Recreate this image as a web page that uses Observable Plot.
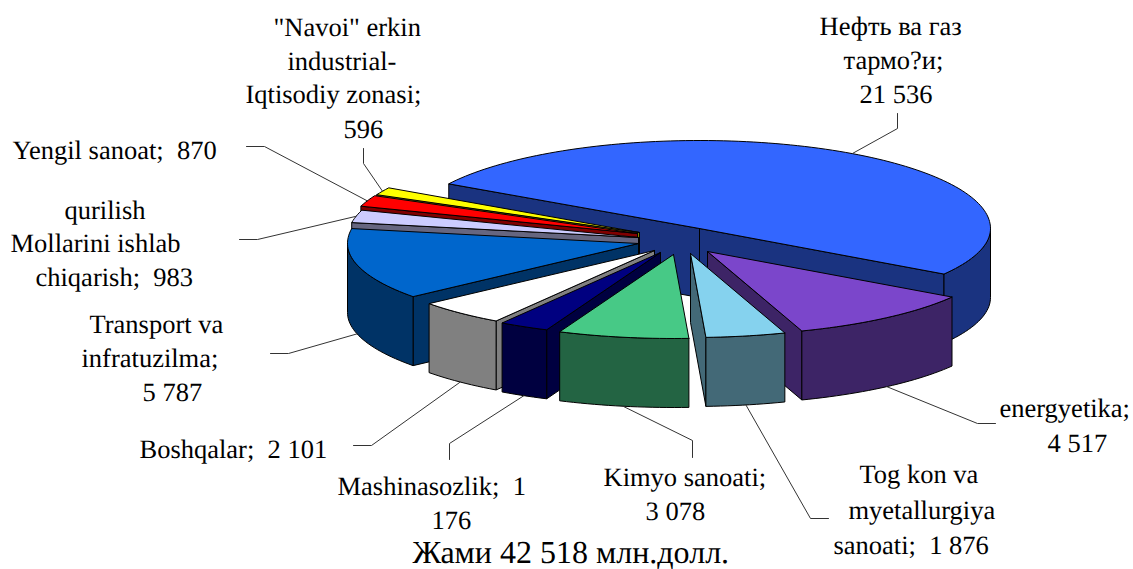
<!DOCTYPE html>
<html lang="uz"><head><meta charset="utf-8">
<script src="https://cdn.jsdelivr.net/npm/d3@7"></script>
<script src="https://cdn.jsdelivr.net/npm/@observablehq/plot@0.6"></script>
<style>
html,body{margin:0;padding:0;background:#fff;overflow:hidden;width:1133px;height:569px}
#chart svg{display:block;text-rendering:geometricPrecision}
</style></head>
<body><div id="chart"></div>
<script>
// ---- data, in pie order (clockwise from the back-left edge)
const sectors = ["Нефть ва газ тармо?и","energyetika","Tog kon va myetallurgiya sanoati","Kimyo sanoati","Mashinasozlik","Boshqalar","Transport va infratuzilma","qurilish Mollarini ishlab chiqarish","Yengil sanoat","\"Navoi\" erkin industrial-Iqtisodiy zonasi"];
const values = [21536,4517,1876,3078,1176,2101,5787,983,870,596];
const labelLines = [
  ["Нефть ва газ","тармо?и;","21 536"],
  ["energyetika;","4 517"],
  ["Tog kon va","myetallurgiya","sanoati;  1 876"],
  ["Kimyo sanoati;","3 078"],
  ["Mashinasozlik;  1","176"],
  ["Boshqalar;  2 101"],
  ["Transport va","infratuzilma;","5 787"],
  ["qurilish","Mollarini ishlab","chiqarish;  983"],
  ["Yengil sanoat;  870"],
  ["\"Navoi\" erkin","industrial-","Iqtisodiy zonasi;","596"]
];
const captionText = "Жами 42 518 млн.долл.";
// ---- styles
const topColors  = ["#3366FF","#7B46CB","#85D2EE","#47C986","#000080","#FFFFFF","#0066CC","#CCCCFF","#FF0000","#FFFF00"];
const wallColors = ["#1A3380","#3D2466","#436977","#236443","#000040","#808080","#003366","#666680","#800000","#808000"];
// ---- layout of the 3D pie (chart units = px)
const W = 1133, H = 569;
const pie = {a:291, bBack:88, bFront:84, depth:69, startDeg:210.5};
const apexes = [[699,228],[707,251],[690,253],[673,254],[660,252],[654,250],[638,243],[638,237],[637,233],[639,232]];
const drawOrder = [0,9,8,7,6,1,2,5,4,3];
const labelLayout = [
  {lines:[[819,34],[843,68],[859,102]], leader:[[897,113],[897,128]], side:"top"},
  {lines:[[999,416],[1047,451]], leader:[[995,423],[977,423]], side:"bottom"},
  {lines:[[859,482],[848,518],[833,553]], leader:[[828,518],[810,518]], side:"bottom"},
  {lines:[[603,485],[645,519]], leader:[[692,457],[692,440]], side:"bottom"},
  {lines:[[337,494],[431,528]], leader:[[449,459],[449,443]], side:"bottom"},
  {lines:[[139,457]], leader:[[353,445],[371,445]], side:"bottom"},
  {lines:[[89,332],[81,366],[142,400]], leader:[[270,353],[288,353]], side:"bottom"},
  {lines:[[64,218],[10,251],[35,285]], leader:[[239,239],[257,239]], side:"top"},
  {lines:[[12,158]], leader:[[246,146],[264,146]], side:"top"},
  {lines:[[273,35],[287,69],[245,102],[343,137]], leader:[[363,148],[363,163]], side:"top"}
];
const captionAt = [412,562];

// ---- geometry derived from the values
const total = d3.sum(values);
const rad = d => d*Math.PI/180;
let cursor = pie.startDeg;
const slices = values.map((v,i)=>{
  const start = cursor, end = cursor + v/total*360; cursor = end;
  return {i,start,end,apex:apexes[i]};
});
const rim = (s,deg,drop=0)=>{
  const sn=Math.sin(rad(deg));
  return [s.apex[0]+pie.a*Math.cos(rad(deg)), s.apex[1]+(sn>0?pie.bFront:pie.bBack)*sn+drop];
};
const arc = (from,to)=>{ const n=Math.max(2,Math.ceil(Math.abs(to-from)/1.5)); return d3.range(n+1).map(k=>from+(to-from)*k/n); };

const polys = [];
const add = (pts,fill)=>{ const id=polys.length?polys[polys.length-1].id+1:0; [...pts,pts[0]].forEach(p=>polys.push({id,x:p[0],y:p[1],fill})); };
for (const idx of drawOrder) {
  const s = slices[idx], wall = wallColors[idx], d = pie.depth;
  const faces = deg => Math.sin(rad(deg))>0;
  const edge = deg => { const r=rim(s,deg); add([s.apex,r,[r[0],r[1]+d],[s.apex[0],s.apex[1]+d]],wall); };
  if (faces(s.start-90)) edge(s.start);
  if (faces(s.end+90)) edge(s.end);
  // outer wall: only the part of the rim that faces the viewer
  for (const base of [0,360]) {
    const from=Math.max(s.start,base), to=Math.min(s.end,base+180);
    if (to>from) {
      const as=arc(from,to);
      add([...as.map(t=>rim(s,t)),...as.slice().reverse().map(t=>rim(s,t,d))],wall);
    }
  }
  add([s.apex,...arc(s.start,s.end).map(t=>rim(s,t))],topColors[idx]);
}
const leaders = labelLayout.flatMap((l,i)=>{
  const s=slices[i], mid=(s.start+s.end)/2;
  return [...l.leader,rim(s,mid,l.side==="bottom"?pie.depth:0)].map(p=>({i,x:p[0],y:p[1]}));
});
const texts = labelLayout.flatMap((l,i)=>l.lines.map((p,k)=>({x:p[0],y:p[1],t:labelLines[i][k]})));

const plot = Plot.plot({
  width:W,height:H,margin:0,
  style:{background:"#fff"},
  x:{domain:[0,W],range:[0,W],axis:null},
  y:{domain:[0,H],range:[0,H],axis:null},
  color:{type:"identity"},
  marks:[
    Plot.line(polys,{x:"x",y:"y",z:"id",fill:"fill",stroke:"#000",strokeWidth:1,strokeLinejoin:"round",curve:"linear"}),
    Plot.line(leaders,{x:"x",y:"y",z:"i",stroke:"#333",strokeWidth:1,curve:"linear"}),
    Plot.text(texts,{x:"x",y:"y",text:"t",textAnchor:"start",lineAnchor:"bottom",fontFamily:"Liberation Serif",fontSize:26.5,fill:"#000",style:{whiteSpace:"pre"}}),
    Plot.text([captionText],{x:captionAt[0],y:captionAt[1],text:d=>d,textAnchor:"start",lineAnchor:"bottom",fontFamily:"Liberation Serif",fontSize:32,fill:"#000"})
  ]
});
document.getElementById("chart").append(plot);
</script>
</body></html>
